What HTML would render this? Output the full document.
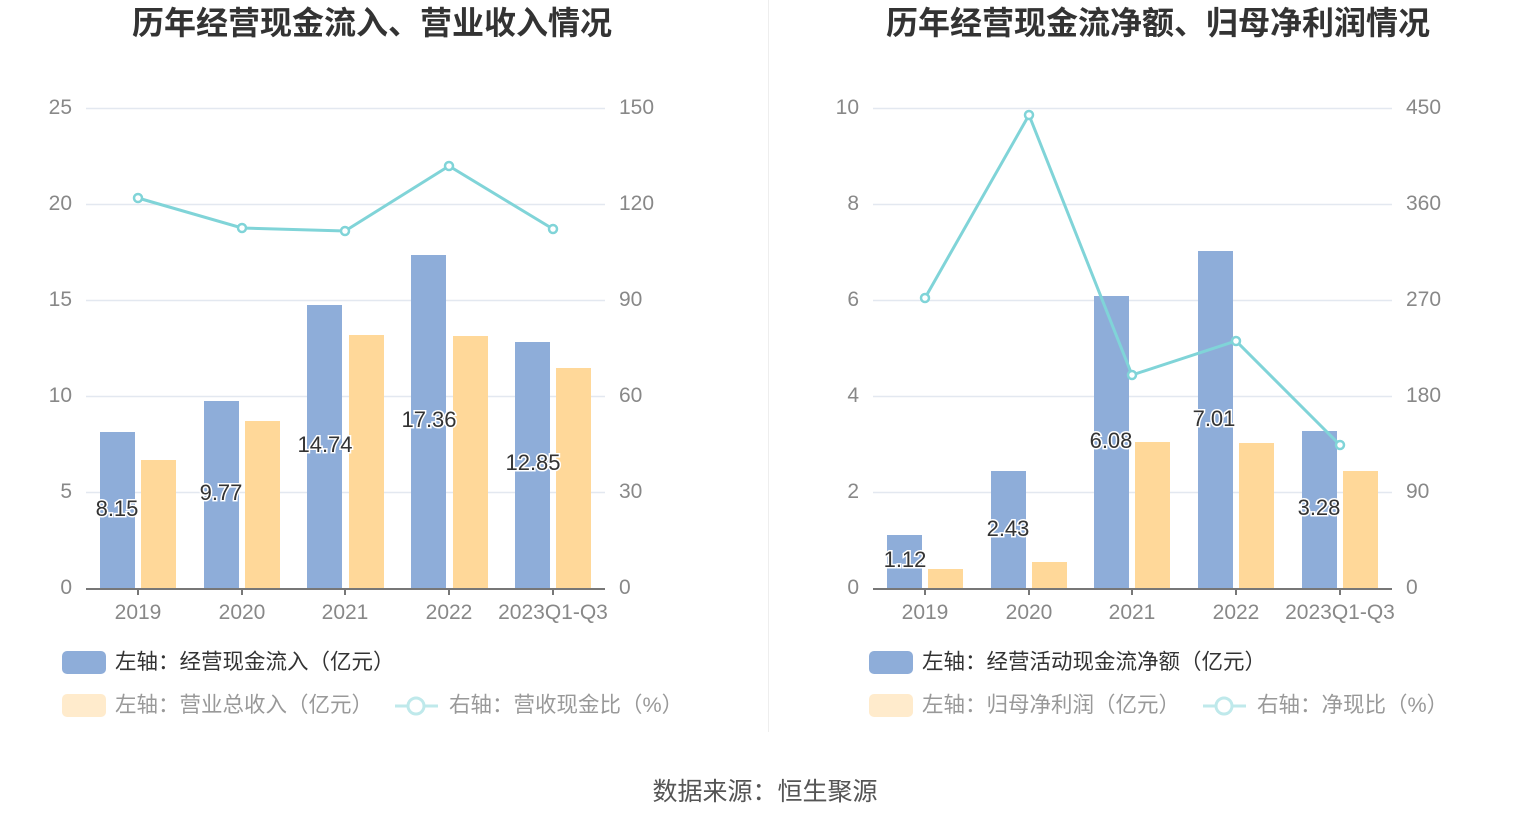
<!DOCTYPE html>
<html><head><meta charset="utf-8"><style>
body{margin:0;background:#fff;}
svg text{font-family:"Liberation Sans","Noto Sans CJK SC",sans-serif;}
.ax{fill:#888;font-size:21px;}
.lb{fill:#333;font-size:22px;stroke:#fff;stroke-width:3px;paint-order:stroke;text-anchor:middle;}
.tt{fill:#333;font-size:32px;font-weight:bold;text-anchor:middle;}
.lg{font-size:21.5px;}
</style></head><body>
<svg width="1531" height="826" xmlns="http://www.w3.org/2000/svg">
<line x1="768.5" y1="0" x2="768.5" y2="732" stroke="#eee"/>
<text class="tt" x="372" y="34">历年经营现金流入、营业收入情况</text>
<text class="tt" x="1158" y="34">历年经营现金流净额、归母净利润情况</text>
<g stroke="#e3e8f0" stroke-width="1.5">
<line x1="86" x2="605" y1="108.5" y2="108.5"/><line x1="86" x2="605" y1="204.5" y2="204.5"/><line x1="86" x2="605" y1="300.5" y2="300.5"/><line x1="86" x2="605" y1="396.5" y2="396.5"/><line x1="86" x2="605" y1="492.5" y2="492.5"/>
<line x1="873" x2="1392" y1="108.5" y2="108.5"/><line x1="873" x2="1392" y1="204.5" y2="204.5"/><line x1="873" x2="1392" y1="300.5" y2="300.5"/><line x1="873" x2="1392" y1="396.5" y2="396.5"/><line x1="873" x2="1392" y1="492.5" y2="492.5"/>
</g>
<g class="ax" text-anchor="end">
<text x="72" y="114">25</text><text x="72" y="210">20</text><text x="72" y="306">15</text><text x="72" y="402">10</text><text x="72" y="498">5</text><text x="72" y="594">0</text>
<text x="859" y="114">10</text><text x="859" y="210">8</text><text x="859" y="306">6</text><text x="859" y="402">4</text><text x="859" y="498">2</text><text x="859" y="594">0</text>
</g>
<g class="ax">
<text x="619" y="114">150</text><text x="619" y="210">120</text><text x="619" y="306">90</text><text x="619" y="402">60</text><text x="619" y="498">30</text><text x="619" y="594">0</text>
<text x="1406" y="114">450</text><text x="1406" y="210">360</text><text x="1406" y="306">270</text><text x="1406" y="402">180</text><text x="1406" y="498">90</text><text x="1406" y="594">0</text>
</g>
<g fill="#8eadd9">
<rect x="100" y="432" width="35" height="157"/><rect x="204" y="401" width="35" height="188"/><rect x="307" y="305" width="35" height="284"/><rect x="411" y="255" width="35" height="334"/><rect x="515" y="342" width="35" height="247"/>
<rect x="887" y="535" width="35" height="54"/><rect x="991" y="471" width="35" height="118"/><rect x="1094" y="296" width="35" height="293"/><rect x="1198" y="251" width="35" height="338"/><rect x="1302" y="431" width="35" height="158"/>
</g>
<g fill="#ffd899">
<rect x="141" y="460" width="35" height="129"/><rect x="245" y="421" width="35" height="168"/><rect x="349" y="335" width="35" height="254"/><rect x="453" y="336" width="35" height="253"/><rect x="556" y="368" width="35" height="221"/>
<rect x="928" y="569" width="35" height="20"/><rect x="1032" y="562" width="35" height="27"/><rect x="1135" y="442" width="35" height="147"/><rect x="1239" y="443" width="35" height="146"/><rect x="1343" y="471" width="35" height="118"/>
</g>
<g stroke="#777" stroke-width="2">
<line x1="86" x2="605" y1="589" y2="589"/><line x1="873" x2="1392" y1="589" y2="589"/>
<path d="M138 589v6M242 589v6M345 589v6M449 589v6M553 589v6M925 589v6M1029 589v6M1132 589v6M1236 589v6M1340 589v6"/>
</g>
<g class="ax" text-anchor="middle">
<text x="138" y="619">2019</text><text x="242" y="619">2020</text><text x="345" y="619">2021</text><text x="449" y="619">2022</text><text x="553" y="619">2023Q1-Q3</text>
<text x="925" y="619">2019</text><text x="1029" y="619">2020</text><text x="1132" y="619">2021</text><text x="1236" y="619">2022</text><text x="1340" y="619">2023Q1-Q3</text>
</g>
<g fill="none" stroke="#80d4d8" stroke-width="3">
<polyline points="138,198 242,228 345,231 449,166 553,229"/>
<polyline points="925,298 1029,115 1132,375 1236,341 1340,445"/>
</g>
<g fill="#fff" stroke="#80d4d8" stroke-width="2.5">
<circle cx="138" cy="198" r="4"/><circle cx="242" cy="228" r="4"/><circle cx="345" cy="231" r="4"/><circle cx="449" cy="166" r="4"/><circle cx="553" cy="229" r="4"/>
<circle cx="925" cy="298" r="4"/><circle cx="1029" cy="115" r="4"/><circle cx="1132" cy="375" r="4"/><circle cx="1236" cy="341" r="4"/><circle cx="1340" cy="445" r="4"/>
</g>
<g class="lb">
<text x="117" y="516">8.15</text><text x="221" y="500">9.77</text><text x="325" y="452">14.74</text><text x="429" y="427">17.36</text><text x="533" y="470">12.85</text>
<text x="905" y="567">1.12</text><text x="1008" y="536">2.43</text><text x="1111" y="448">6.08</text><text x="1214" y="426">7.01</text><text x="1319" y="515">3.28</text>
</g>
<rect x="62" y="651" width="44" height="23" rx="5" fill="#8eadd9"/>
<text class="lg" x="115" y="669" fill="#333">左轴：经营现金流入（亿元）</text>
<rect x="62" y="694" width="44" height="23" rx="5" fill="#ffebcc"/>
<text class="lg" x="115" y="712" fill="#999">左轴：营业总收入（亿元）</text>
<line x1="395" x2="438" y1="706" y2="706" stroke="#bfe9eb" stroke-width="3"/><circle cx="416" cy="706" r="8" fill="#fff" stroke="#bfe9eb" stroke-width="3"/>
<text class="lg" x="449" y="712" fill="#999">右轴：营收现金比（%）</text>
<rect x="869" y="651" width="44" height="23" rx="5" fill="#8eadd9"/>
<text class="lg" x="922" y="669" fill="#333">左轴：经营活动现金流净额（亿元）</text>
<rect x="869" y="694" width="44" height="23" rx="5" fill="#ffebcc"/>
<text class="lg" x="922" y="712" fill="#999">左轴：归母净利润（亿元）</text>
<line x1="1203" x2="1246" y1="706" y2="706" stroke="#bfe9eb" stroke-width="3"/><circle cx="1224" cy="706" r="8" fill="#fff" stroke="#bfe9eb" stroke-width="3"/>
<text class="lg" x="1257" y="712" fill="#999">右轴：净现比（%）</text>
<text x="765" y="800" text-anchor="middle" fill="#555" font-size="25">数据来源：恒生聚源</text>
</svg>
</body></html>
